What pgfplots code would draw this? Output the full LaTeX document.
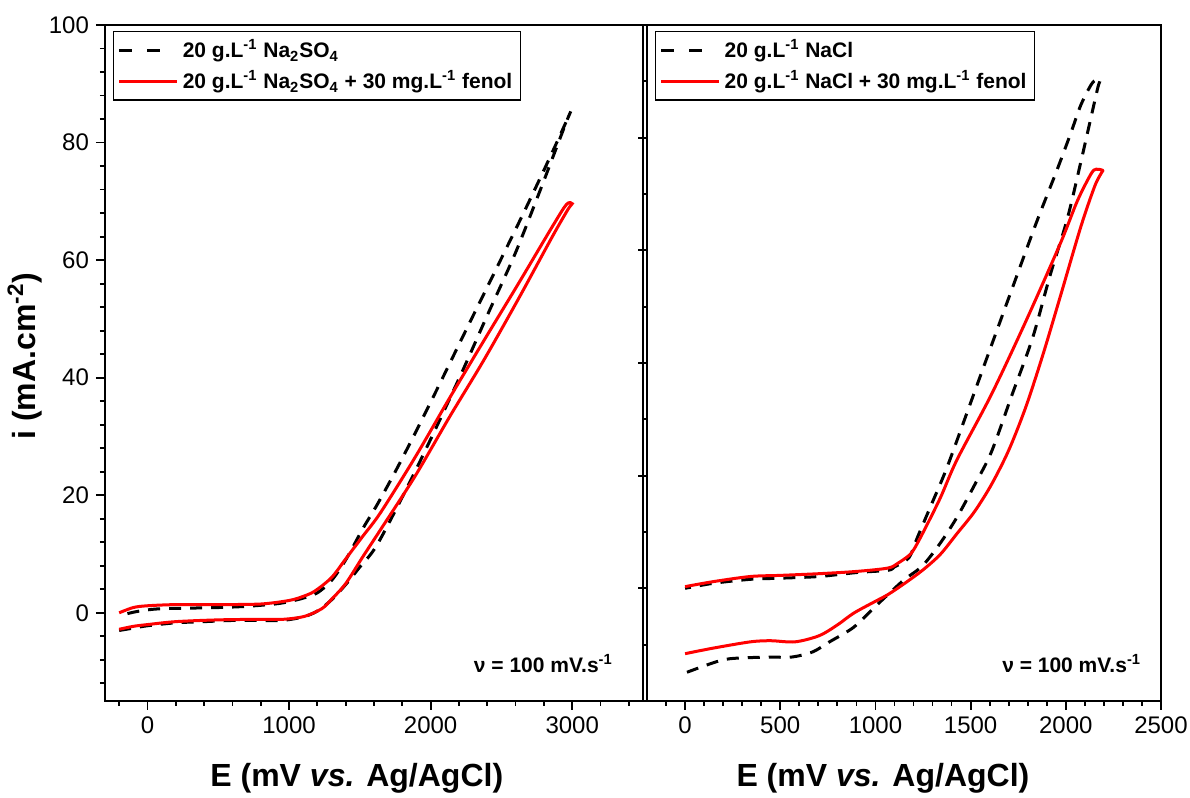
\documentclass[border=0pt]{standalone}
\usepackage{fontspec}
\setmainfont{Liberation Sans}
\usepackage{pgfplots}
\pgfplotsset{compat=1.18}

\pgfplotsset{
  cvpanel/.style={
    scale only axis, height=338pt,
    axis line style={line width=0.9pt},
    tick style={line width=0.9pt, black},
    tick align=outside, xtick pos=bottom, ytick pos=left,
    major tick length=4.5pt, minor tick length=2.5pt,
    ticklabel style={font=\fontsize{12}{14}\selectfont},
    /pgf/number format/assume math mode=true,
    /pgf/number format/set thousands separator={},
    scaled ticks=false,
    xlabel style={at={(rel axis cs:0.468,0)}, anchor=center, yshift=-38.5pt,
      font=\bfseries\fontsize{16}{19}\selectfont},
    legend style={draw=black, line width=0.7pt, anchor=north west,
      font=\bfseries\fontsize{10.5}{12.6}\selectfont,
      inner xsep=2pt, inner ysep=2pt, row sep=1pt},
    legend cell align=left,
  },
  saltline/.style={black, line width=1.5pt, dash pattern=on 6pt off 4.5pt, smooth},
  fenolline/.style={red, line width=1.5pt, smooth},
  dashimg/.style={legend image code/.code={\draw[black,line width=1.5pt,dash pattern=on 6.5pt off 7.5pt] (0pt,0pt)--(23pt,0pt);}},
  redimg/.style={legend image code/.code={\draw[red,line width=1.5pt] (0pt,0pt)--(29pt,0pt);}},
}

\begin{document}
\begin{tikzpicture}
\path[use as bounding box] (0,0) rectangle (595pt,399pt);

% Na2SO4
\begin{axis}[cvpanel, at={(52.5pt,48.5pt)}, anchor=south west, width=269pt,
  xmin=-300, xmax=3500, ymin=-15, ymax=100,
  xtick={0,1000,2000,3000}, minor xtick={-200,0,...,3400},
  ytick={0,20,...,100}, minor ytick={-12,-8,...,96},
  xlabel={E (mV \textit{vs.} Ag/AgCl)},
  ylabel={i (mA.cm\textsuperscript{-2})},
  ylabel style={at={(rel axis cs:-0.1487,0.51)}, anchor=center,
    font=\bfseries\fontsize{16}{19}\selectfont},
  legend style={at={(rel axis cs:0.015,0.991)}},
]
\addlegendimage{dashimg}
\addlegendentry{20 g.L\textsuperscript{-1} Na\textsubscript{2}SO\textsubscript{4}}
\addlegendimage{redimg}
\addlegendentry{20 g.L\textsuperscript{-1} Na\textsubscript{2}SO\textsubscript{4} + 30 mg.L\textsuperscript{-1} fenol}

\addplot[saltline, forget plot] coordinates {
(-200,-3.0) (-100,-2.6) (0,-2.2) (200,-1.7) (400,-1.5) (600,-1.3) (800,-1.3) (950,-1.3)
(1100,-0.7) (1200,0.3) (1300,2.2) (1400,4.8) (1500,7.8) (1620,11.5) (1840,21.6) (2035,31.3)
(2230,41.4) (2400,50.6) (2595,61.0) (2766,71.4) (2863,77.5) (2960,83.6) (2990,85.3)
(2936,82.4) (2839,77.3) (2668,68.6) (2461,58.4) (2254,48.3) (2059,38.7) (1900,31.0)
(1750,24.0) (1620,18.3) (1523,14.4) (1400,9.0) (1300,5.5) (1200,3.4) (1100,2.5) (1000,1.9)
(900,1.5) (700,1.1) (500,0.9) (300,0.8) (100,0.7) (0,0.5) (-100,0.1) (-200,-0.5)
};
\addplot[fenolline, forget plot] coordinates {
(-200,-2.8) (-100,-2.3) (0,-2.0) (200,-1.5) (500,-1.2) (800,-1.1) (960,-1.1) (1109,-0.6)
(1231,0.7) (1300,2.3) (1401,5.0) (1520,9.5) (1645,14.1) (1889,23.2) (2133,33.3) (2376,43.0)
(2620,53.4) (2862,64.1) (2972,68.7) (3000,69.6)
(2960,69.5) (2862,65.8) (2620,56.0) (2376,46.3) (2133,36.5) (1889,26.4) (1645,17.0)
(1520,13.0) (1401,9.2) (1300,6.0) (1182,3.7) (1100,2.8) (1000,2.1) (800,1.5) (500,1.4)
(200,1.4) (0,1.2) (-100,0.9) (-200,0.0)
};
\node[anchor=east, font=\bfseries\fontsize{10.5}{12.6}\selectfont] at (rel axis cs:0.957,0.056) {ν = 100 mV.s\textsuperscript{-1}};
\end{axis}

% NaCl
\begin{axis}[cvpanel, at={(323.5pt,48.5pt)}, anchor=south west, width=257pt,
  xmin=-200, xmax=2500, ymin=-20, ymax=100,
  xtick={0,500,...,2500}, minor xtick={-100,0,...,2500},
  ytick={-20,0,...,100}, minor ytick={-10,10,...,90}, yticklabels={},
  xlabel={E (mV \textit{vs.} Ag/AgCl)},
  xlabel style={at={(rel axis cs:0.459,0)}},
  legend style={at={(rel axis cs:0.0156,0.991)}},
]
\addlegendimage{dashimg}
\addlegendentry{20 g.L\textsuperscript{-1} NaCl}
\addlegendimage{redimg}
\addlegendentry{20 g.L\textsuperscript{-1} NaCl + 30 mg.L\textsuperscript{-1} fenol}

\addplot[saltline, forget plot] coordinates {
(10,-14.9) (199,-12.7) (343,-12.3) (450,-12.2) (560,-12.2) (669,-11.3) (759,-9.5) (886,-6.9)
(1000,-3.2) (1066,-1.1) (1150,1.5) (1247,4.0) (1340,8.0) (1428,12.6) (1520,18.3) (1609,24.2)
(1718,34.4) (1826,44.5) (1916,55.4) (2007,65.5) (2079,75.7) (2133,83.7) (2169,89.0) (2182,90.4)
(2160,90.3) (2133,89.4) (2079,85.8) (2025,80.7) (1953,74.2) (1844,64.8) (1718,53.2) (1609,43.1)
(1492,32.2) (1374,21.3) (1284,14.1) (1220,9.0) (1175,5.4) (1100,3.8) (1066,3.2) (900,2.8)
(705,2.1) (500,1.8) (343,1.6) (150,0.9) (0,0.0)
};
\addplot[fenolline, forget plot] coordinates {
(0,-11.6) (150,-10.6) (343,-9.5) (450,-9.3) (578,-9.5) (705,-8.4) (800,-6.5) (886,-4.4)
(1000,-2.3) (1066,-1.1) (1150,0.8) (1247,3.2) (1340,6.0) (1428,9.7) (1520,13.6) (1609,18.4)
(1700,24.5) (1790,32.2) (1880,41.5) (1971,51.8) (2079,64.2) (2152,71.4) (2188,73.8) (2193,74.2)
(2160,74.4) (2133,73.6) (2061,68.8) (1971,61.2) (1790,47.4) (1609,34.4) (1428,22.8) (1340,16.0)
(1247,9.7) (1200,6.8) (1175,5.8) (1120,4.5) (1066,3.6) (900,3.0) (705,2.6) (500,2.3)
(343,2.1) (150,1.2) (0,0.3)
};
\node[anchor=east, font=\bfseries\fontsize{10.5}{12.6}\selectfont] at (rel axis cs:0.975,0.056) {ν = 100 mV.s\textsuperscript{-1}};
\end{axis}
\end{tikzpicture}
\end{document}
